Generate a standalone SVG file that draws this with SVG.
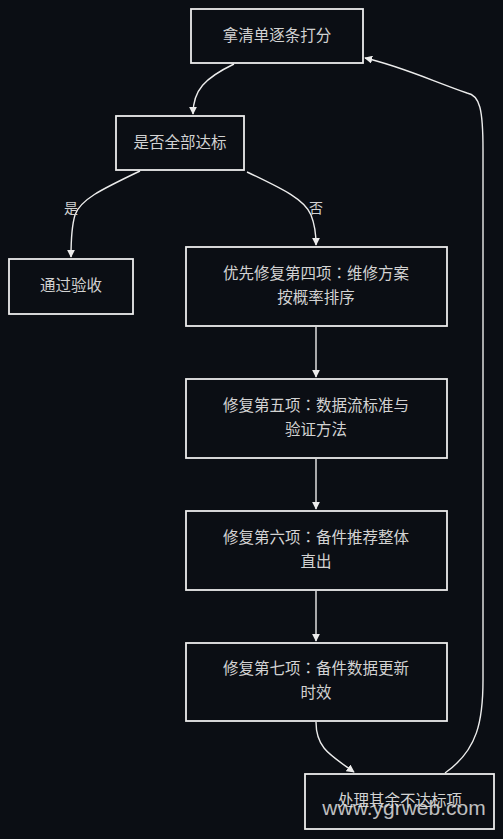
<svg xmlns="http://www.w3.org/2000/svg" width="503" height="839" viewBox="0 0 503 839">
<style>
.bg{fill:#0b0e14}
.box{fill:#0b0e14;stroke:#ececec;stroke-width:1.8}
.t{font-family:"Noto Sans CJK SC","Noto Sans",sans-serif;font-size:15.5px;fill:#d2d2d2;text-anchor:middle}
.col{font-family:"Noto Sans CJK TC","Noto Sans CJK SC",sans-serif}
.lbl{font-family:"Noto Sans CJK SC","Noto Sans",sans-serif;font-size:14px;fill:#d2d2d2;text-anchor:middle}
.c{fill:none;stroke:#ececec;stroke-width:1.4}
.wm{font-family:"Liberation Sans","Noto Sans",sans-serif;font-size:21px;fill:#e0e0e0;fill-opacity:0.85;text-anchor:middle}
</style>
<defs>
<marker id="ah" viewBox="0 0 10 10" refX="9" refY="5" markerWidth="8" markerHeight="8" markerUnits="userSpaceOnUse" orient="auto">
<path d="M0,0 L10,5 L0,10 z" fill="#ececec"/>
</marker>
</defs>
<rect class="bg" x="0" y="0" width="503" height="839"/>
<g id="connectors">
<path class="c" d="M234,64 C205,78 193,90 193,114" marker-end="url(#ah)"/>
<path class="c" d="M140,171 C100,190 80,200 75,215 C72,225 71,240 71,257" marker-end="url(#ah)"/>
<path class="c" d="M247,172 C285,190 305,200 311,215 C315,225 316,235 316,245" marker-end="url(#ah)"/>
<path class="c" d="M316,327 L316,377" marker-end="url(#ah)"/>
<path class="c" d="M316,459 L316,509" marker-end="url(#ah)"/>
<path class="c" d="M316,591 L316,641" marker-end="url(#ah)"/>
<path class="c" d="M316,722 C316,748 330,755 354,772" marker-end="url(#ah)"/>
<path class="c" d="M445,773 C478,750 483,720 483,680 L483,150 C483,110 480,95 467,93 C430,80 400,66 365,58" marker-end="url(#ah)"/>
<text class="lbl" x="71" y="213">是</text>
<text class="lbl" x="316" y="213">否</text>
</g>
<g id="n1">
<rect class="box" x="191" y="9" width="172" height="54"/>
<text class="t" x="277" y="41">拿清单逐条打分</text>
</g>
<g id="n2">
<rect class="box" x="116" y="116" width="128" height="54"/>
<text class="t" x="180" y="148">是否全部达标</text>
</g>
<g id="n3">
<rect class="box" x="9" y="259" width="124" height="55"/>
<text class="t" x="71" y="291">通过验收</text>
</g>
<g id="n4">
<rect class="box" x="186" y="247" width="261" height="79"/>
<text class="t" x="316" y="279">优先修复第四项<tspan class="col">：</tspan>维修方案</text>
<text class="t" x="316" y="303">按概率排序</text>
</g>
<g id="n5">
<rect class="box" x="186" y="379" width="261" height="79"/>
<text class="t" x="316" y="411">修复第五项<tspan class="col">：</tspan>数据流标准与</text>
<text class="t" x="316" y="435">验证方法</text>
</g>
<g id="n6">
<rect class="box" x="186" y="511" width="261" height="79"/>
<text class="t" x="316" y="543">修复第六项<tspan class="col">：</tspan>备件推荐整体</text>
<text class="t" x="316" y="567">直出</text>
</g>
<g id="n7">
<rect class="box" x="186" y="643" width="261" height="78"/>
<text class="t" x="316" y="674">修复第七项<tspan class="col">：</tspan>备件数据更新</text>
<text class="t" x="316" y="698">时效</text>
</g>
<g id="n8">
<rect class="box" x="305" y="774" width="189" height="55"/>
<text class="t" x="400" y="806">处理其余不达标项</text>
</g>
<text class="wm" x="404" y="815">www.ygrweb.com</text>
</svg>
